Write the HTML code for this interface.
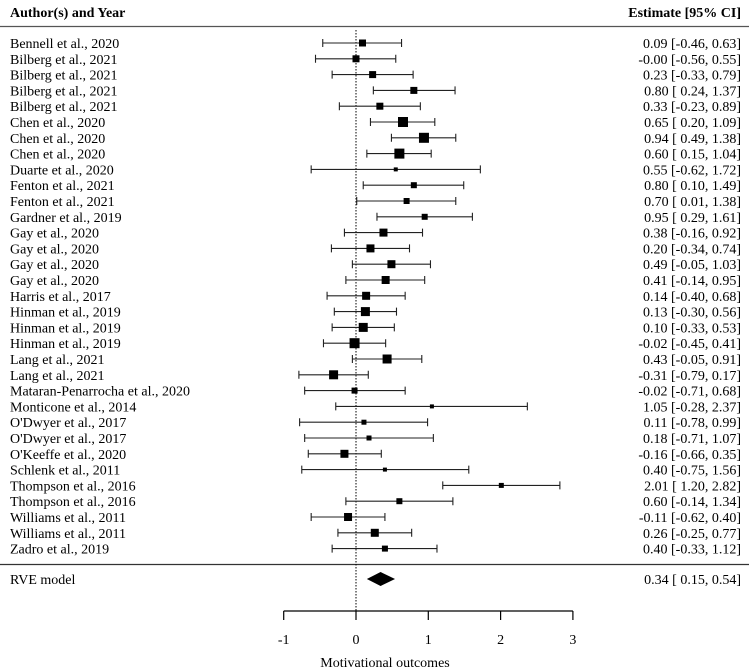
<!DOCTYPE html>
<html><head><meta charset="utf-8"><style>
html,body{margin:0;padding:0;background:#fff;}
svg{display:block;font-family:"Liberation Serif",serif;}
</style></head><body>
<svg id="chart" width="749" height="671" viewBox="0 0 749 671" xmlns="http://www.w3.org/2000/svg">
<text x="10" y="17" font-size="14" font-weight="bold">Author(s) and Year</text>
<text x="741" y="17" font-size="14" font-weight="bold" text-anchor="end">Estimate [95% CI]</text>
<line x1="0" y1="26.5" x2="749" y2="26.5" stroke="#555" stroke-width="1.3"/>
<line x1="0" y1="564.5" x2="749" y2="564.5" stroke="#333" stroke-width="1.2"/>
<g id="marks"></g>
<text x="10" y="584" font-size="14">RVE model</text>
<text x="385" y="667" font-size="14" text-anchor="middle">Motivational outcomes</text>
</svg>
<script>
const studies=["Bennell et al., 2020","Bilberg et al., 2021","Bilberg et al., 2021","Bilberg et al., 2021","Bilberg et al., 2021","Chen et al., 2020","Chen et al., 2020","Chen et al., 2020","Duarte et al., 2020","Fenton et al., 2021","Fenton et al., 2021","Gardner et al., 2019","Gay et al., 2020","Gay et al., 2020","Gay et al., 2020","Gay et al., 2020","Harris et al., 2017","Hinman et al., 2019","Hinman et al., 2019","Hinman et al., 2019","Lang et al., 2021","Lang et al., 2021","Mataran-Penarrocha et al., 2020","Monticone et al., 2014","O'Dwyer et al., 2017","O'Dwyer et al., 2017","O'Keeffe et al., 2020","Schlenk et al., 2011","Thompson et al., 2016","Thompson et al., 2016","Williams et al., 2011","Williams et al., 2011","Zadro et al., 2019"];
const estimates=[0.09,-0.00,0.23,0.80,0.33,0.65,0.94,0.60,0.55,0.80,0.70,0.95,0.38,0.20,0.49,0.41,0.14,0.13,0.10,-0.02,0.43,-0.31,-0.02,1.05,0.11,0.18,-0.16,0.40,2.01,0.60,-0.11,0.26,0.40];
const lower=[-0.46,-0.56,-0.33,0.24,-0.23,0.20,0.49,0.15,-0.62,0.10,0.01,0.29,-0.16,-0.34,-0.05,-0.14,-0.40,-0.30,-0.33,-0.45,-0.05,-0.79,-0.71,-0.28,-0.78,-0.71,-0.66,-0.75,1.20,-0.14,-0.62,-0.25,-0.33];
const upper=[0.63,0.55,0.79,1.37,0.89,1.09,1.38,1.04,1.72,1.49,1.38,1.61,0.92,0.74,1.03,0.95,0.68,0.56,0.53,0.41,0.91,0.17,0.68,2.37,0.99,1.07,0.35,1.56,2.82,1.34,0.40,0.77,1.12];
const weights=[7,7,7,7,7,10,10,10,4,6,6,6,8,8,8,8,8,9,9,10,9,9,6,4,5,5,8,4,5,6,8,8,6];
const summary=[0.34,0.15,0.54];
const ticks=[-1,0,1,2,3];

const svg=document.getElementById('marks');
const NS='http://www.w3.org/2000/svg';
const xs=v=>356+72.3*v;
const rowY=i=>43+i*15.8;
function mk(tag,attrs){const e=document.createElementNS(NS,tag);for(const k in attrs)e.setAttribute(k,attrs[k]);svg.appendChild(e);return e;}
const fmt=v=>{let s=Math.abs(v).toFixed(2);return (v<0||Object.is(v,-0))?"-"+s:s;};
const pad=v=>(v<0||Object.is(v,-0))?fmt(v):" "+fmt(v);

let ref=mk('line',{x1:xs(0),y1:30,x2:xs(0),y2:611,stroke:'#000','stroke-width':1,'stroke-dasharray':'1.5,1.5'});



studies.forEach((s,i)=>{
  const y=rowY(i);
  const t=mk('text',{x:10,y:y+5,'font-size':14});t.textContent=s;
  
  
  const ci=mk('path',{d:`M${xs(lower[i])},${y}H${xs(upper[i])}M${xs(lower[i])},${y-4}V${y+4}M${xs(upper[i])},${y-4}V${y+4}`,stroke:'#222','stroke-width':1.1,fill:'none'});
  
  
  const w=weights[i];
  const sq=mk('rect',{x:xs(estimates[i])-w/2,y:y-w/2,width:w,height:w,fill:'#000'});
  
  
  const e=mk('text',{x:741,y:y+5,'font-size':14,'text-anchor':'end'});
  e.textContent=`${fmt(estimates[i])} [${pad(lower[i])}, ${fmt(upper[i])}]`;
  e.style.whiteSpace='pre';
  
  
});

const sy=579;
const dia=mk('polygon',{points:`${xs(summary[1])},${sy} ${xs(summary[0])},${sy-7} ${xs(summary[2])},${sy} ${xs(summary[0])},${sy+7}`,fill:'#000'});


const st=mk('text',{x:741,y:sy+5,'font-size':14,'text-anchor':'end'});
st.textContent=`${fmt(summary[0])} [${pad(summary[1])}, ${fmt(summary[2])}]`;
st.style.whiteSpace='pre';



const ax=mk('line',{x1:xs(ticks[0]),y1:611,x2:xs(ticks[ticks.length-1]),y2:611,stroke:'#000','stroke-width':1.2});


ticks.forEach(t=>{
  const l=mk('line',{x1:xs(t),y1:611,x2:xs(t),y2:620,stroke:'#000','stroke-width':1.2});
  
  
  const tx=mk('text',{x:xs(t),y:644,'font-size':14,'text-anchor':'middle'});tx.textContent=t;
  
  
});
</script>
</body></html>
